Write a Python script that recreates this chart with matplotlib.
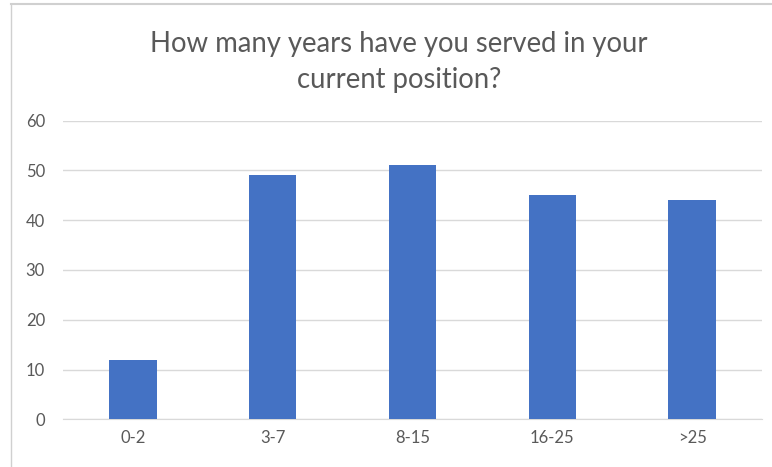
import matplotlib
matplotlib.use("Agg")
import matplotlib.pyplot as plt
from matplotlib.lines import Line2D

categories = ["0-2", "3-7", "8-15", "16-25", ">25"]
values = [12, 49, 51, 45, 44]
yticks = [0, 10, 20, 30, 40, 50, 60]

W, H = 772, 467
fig = plt.figure(figsize=(W / 100, H / 100), dpi=100)
fig.patch.set_facecolor("white")
plt.rcParams['font.family'] = ['Lato', 'DejaVu Sans']

ax = fig.add_axes([63 / W, (H - 419.3) / H, (762 - 63) / W, (419.3 - 120.7) / H])
ax.bar(range(len(categories)), values, width=0.34, color="#4472C4", zorder=3)
ax.set_xlim(-0.5, len(categories) - 0.5)
ax.set_ylim(0, 60)
ax.set_yticks(yticks)
ax.set_xticks(range(len(categories)))
ax.set_xticklabels(categories)
ax.grid(axis="y", color="#D9D9D9", linewidth=1, zorder=0)
for s in ["top", "right", "left"]:
    ax.spines[s].set_visible(False)
ax.spines["bottom"].set_color("#D9D9D9")
ax.tick_params(axis="both", length=0, colors="#595959", labelsize=12)
ax.tick_params(axis="y", pad=13)
ax.tick_params(axis="x", pad=8)

fig.text(399 / W, (H - 44) / H, "How many years have you served in your",
         ha="center", va="center", fontsize=19.8, color="#595959")
fig.text(399 / W, (H - 80) / H, "current position?",
         ha="center", va="center", fontsize=19.8, color="#595959")

# outer chart frame (top and left edges visible)
fig.add_artist(Line2D([11 / W, 1], [(H - 4) / H, (H - 4) / H],
                      transform=fig.transFigure, color="#D0D0D0", linewidth=1.5))
fig.add_artist(Line2D([11 / W, 11 / W], [0, (H - 4) / H],
                      transform=fig.transFigure, color="#D0D0D0", linewidth=1))

fig.savefig("out.png", dpi=100)
